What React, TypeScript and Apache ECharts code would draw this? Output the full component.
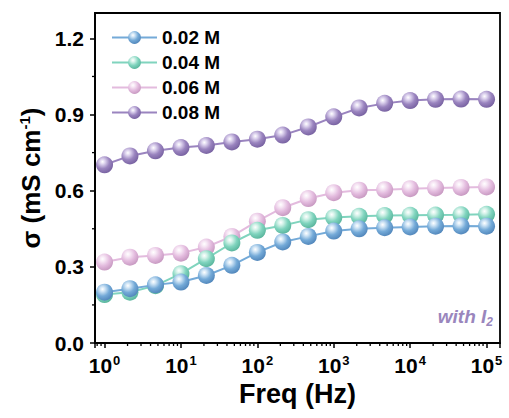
import React, { useEffect, useRef } from "react";
import * as echarts from "echarts";

const freqs = [1, 2.15, 4.64, 10, 21.5, 46.4, 100, 215, 464, 1000, 2150, 4640, 10000, 21500, 46400, 100000];
const seriesNames = ["0.02 M", "0.04 M", "0.06 M", "0.08 M"];
const s002 = [0.200, 0.214, 0.229, 0.240, 0.266, 0.306, 0.357, 0.398, 0.420, 0.441, 0.450, 0.454, 0.457, 0.460, 0.461, 0.460];
const s004 = [0.191, 0.200, 0.226, 0.273, 0.332, 0.394, 0.444, 0.463, 0.486, 0.494, 0.499, 0.502, 0.503, 0.504, 0.505, 0.507];
const s006 = [0.319, 0.338, 0.345, 0.354, 0.378, 0.420, 0.480, 0.533, 0.569, 0.592, 0.602, 0.604, 0.608, 0.611, 0.613, 0.615];
const s008 = [0.702, 0.737, 0.757, 0.770, 0.778, 0.792, 0.803, 0.819, 0.851, 0.891, 0.926, 0.944, 0.955, 0.960, 0.961, 0.960];
const yMinorTicks = [0.15, 0.45, 0.75, 1.05];
const xMin = 0.75;
const xMax = 150000;

const palette = [
  { base: "#74aad8", light: "#cfe4f5", dark: "#5489bd" },
  { base: "#80d4be", light: "#d6f3ea", dark: "#5cb79f" },
  { base: "#e3bbde", light: "#f7e8f5", dark: "#c99bc3" },
  { base: "#9a84bf", light: "#ddd3ee", dark: "#7a64a3" },
];

const FONT = "Liberation Sans, Arial, sans-serif";

function sphere(c: { base: string; light: string; dark: string }) {
  return new echarts.graphic.RadialGradient(0.38, 0.32, 0.68, [
    { offset: 0, color: "#ffffff" },
    { offset: 0.22, color: c.light },
    { offset: 0.6, color: c.base },
    { offset: 1, color: c.dark },
  ]);
}

function xMinorValues() {
  const out: number[] = [];
  for (let e = -1; e <= 5; e++) {
    for (let m = 2; m <= 9; m++) {
      const v = m * Math.pow(10, e);
      if (v >= xMin && v <= xMax) out.push(v);
    }
  }
  return out;
}

export default function App() {
  const ref = useRef<HTMLDivElement>(null);
  useEffect(() => {
    if (!ref.current) return;
    const chart = echarts.init(ref.current, undefined, { renderer: "svg" });
    const allData = [s002, s004, s006, s008];
    const lineSeries = allData.map((arr, i) => ({
      name: seriesNames[i],
      type: "line",
      data: freqs.map((f, j) => [f, arr[j]]),
      symbol: "circle",
      symbolSize: 17,
      z: 10 - i,
      itemStyle: { color: sphere(palette[i]) },
      lineStyle: { color: palette[i].base, width: 2 },
    }));
    chart.setOption({
      animation: false,
      grid: {
        left: 95,
        right: 9,
        top: 13,
        bottom: 75,
        show: true,
        borderColor: "#000",
        borderWidth: 1.8,
        backgroundColor: "transparent",
      },
      legend: {
        data: seriesNames,
        orient: "vertical",
        left: 106,
        top: 23,
        itemWidth: 45,
        itemHeight: 16,
        itemGap: 6,
        textStyle: { fontFamily: FONT, fontWeight: "bold", fontSize: 19, lineHeight: 19, color: "#000" },
      },
      xAxis: {
        type: "log",
        logBase: 10,
        min: xMin,
        max: xMax,
        name: "Freq (Hz)",
        nameLocation: "middle",
        nameGap: 32,
        nameTextStyle: { fontFamily: FONT, fontWeight: "bold", fontSize: 27, color: "#000" },
        axisLine: { lineStyle: { color: "#000", width: 1.8 } },
        axisTick: { length: 5, lineStyle: { color: "#000", width: 1.5 } },
        splitLine: { show: false },
        axisLabel: {
          margin: 11,
          formatter: (v: number) => {
            const l = Math.log10(v);
            if (Math.abs(l - Math.round(l)) > 1e-6) return "";
            return "10{sup|" + Math.round(l) + "}";
          },
          fontFamily: FONT,
          fontWeight: "bold",
          fontSize: 21,
          color: "#000",
          rich: {
            sup: { fontFamily: FONT, fontWeight: "bold", fontSize: 13, color: "#000", verticalAlign: "top", padding: [0, 0, 10, 1] },
          },
        },
      },
      yAxis: {
        type: "value",
        min: 0,
        max: 1.3,
        interval: 0.3,
        name: "σ (mS cm{sup|-1})",
        nameLocation: "middle",
        nameGap: 50,
        nameRotate: 90,
        nameTextStyle: {
          fontFamily: FONT,
          fontWeight: "bold",
          fontSize: 26,
          color: "#000",
          rich: {
            sup: { fontFamily: FONT, fontWeight: "bold", fontSize: 15, color: "#000", verticalAlign: "top", padding: [0, 0, 12, 0] },
          },
        },
        axisLine: { lineStyle: { color: "#000", width: 1.8 } },
        axisTick: { length: 5, lineStyle: { color: "#000", width: 1.5 } },
        splitLine: { show: false },
        axisLabel: {
          margin: 11,
          showMaxLabel: false,
          formatter: (v: number) => v.toFixed(1),
          fontFamily: FONT,
          fontWeight: "bold",
          fontSize: 21,
          color: "#000",
        },
      },
      graphic: [
        {
          type: "text",
          right: 16,
          top: 307,
          style: {
            text: "with I{sub|2}",
            fontFamily: FONT,
            fontWeight: "bold",
            fontStyle: "italic",
            fontSize: 19,
            fill: "#9a86bd",
            rich: {
              sub: { fontFamily: FONT, fontWeight: "bold", fontStyle: "italic", fontSize: 12, fill: "#9a86bd", verticalAlign: "bottom", padding: [10, 0, 0, 0] },
            },
          },
        },
      ],
      series: [
        ...lineSeries,
        {
          type: "custom",
          clip: false,
          silent: true,
          data: xMinorValues().map((v) => [v, 0]),
          renderItem: (params: any, api: any) => {
            const p = api.coord([api.value(0), 0]);
            return {
              type: "line",
              shape: { x1: p[0], y1: p[1], x2: p[0], y2: p[1] + 3 },
              style: { stroke: "#000", lineWidth: 1.3 },
            };
          },
        },
        {
          type: "custom",
          clip: false,
          silent: true,
          data: yMinorTicks.map((v) => [1, v]),
          renderItem: (params: any, api: any) => {
            const p = api.coord([api.value(0), api.value(1)]);
            const x = params.coordSys.x;
            return {
              type: "line",
              shape: { x1: x - 3, y1: p[1], x2: x, y2: p[1] },
              style: { stroke: "#000", lineWidth: 1.3 },
            };
          },
        },
      ],
    });
    return () => chart.dispose();
  }, []);
  return (
    <div
      ref={ref}
      style={{ position: "fixed", left: 0, top: 0, width: 509, height: 418, background: "#fff" }}
    />
  );
}
